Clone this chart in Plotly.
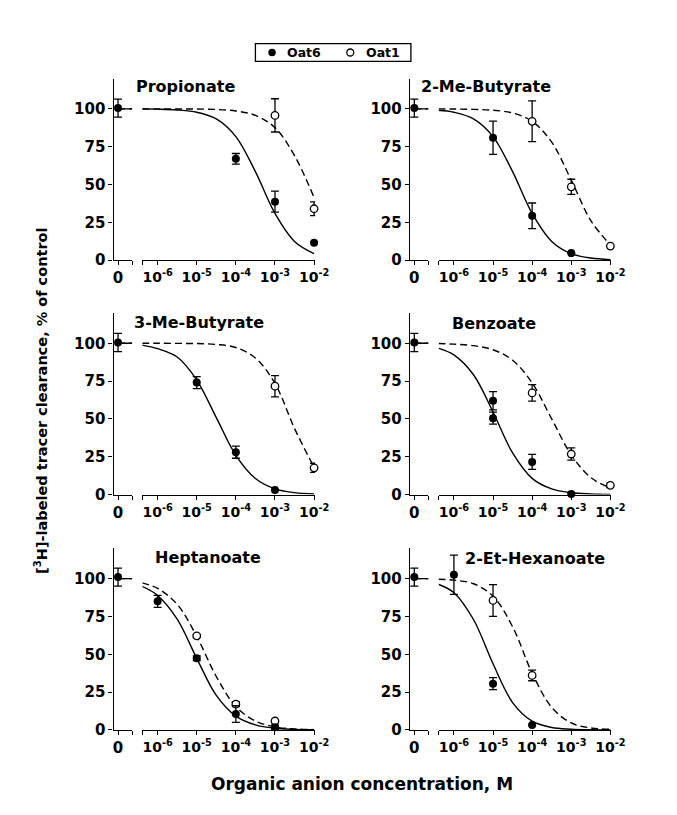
import plotly.graph_objects as go

W, H = 677, 815
FONT = "DejaVu Sans"

# ---------------- data ----------------
panel_titles = ["Propionate", "2-Me-Butyrate", "3-Me-Butyrate",
                "Benzoate", "Heptanoate", "2-Et-Hexanoate"]

x_tick_vals = [1e-6, 1e-5, 1e-4, 1e-3, 1e-2]
x_tick_text = ["10<sup>-6</sup>", "10<sup>-5</sup>", "10<sup>-4</sup>",
               "10<sup>-3</sup>", "10<sup>-2</sup>"]
y_tick_vals = [0, 25, 50, 75, 100]
series_names = ["Oat6", "Oat1"]

# control (concentration 0)
control_y = [100.5, 100.5, 100.5, 100.5, 101.0, 101.0]
control_err = [6, 6, 6, 6, 6, 6]

# Oat6 (filled circles)
oat6_x = [[1e-4, 1e-3, 1e-2],
          [1e-5, 1e-4, 1e-3],
          [1e-5, 1e-4, 1e-3],
          [1e-5, 1e-5, 1e-4, 1e-3],
          [1e-6, 1e-5, 1e-4, 1e-3],
          [1e-6, 1e-5, 1e-4]]
oat6_y = [[67.0, 38.7, 11.5],
          [80.9, 29.3, 4.7],
          [74.0, 28.0, 3.0],
          [62.0, 50.5, 21.6, 0.4],
          [85.0, 47.4, 10.5, 1.7],
          [102.6, 30.6, 3.3]]
oat6_err = [[3.5, 7.0, 0],
            [11.0, 8.5, 0],
            [4.0, 4.0, 0],
            [6.0, 4.0, 5.0, 0],
            [4.0, 1.5, 5.5, 1.5],
            [13.0, 4.0, 0]]

# Oat1 (open circles)
oat1_x = [[1e-3, 1e-2],
          [1e-4, 1e-3, 1e-2],
          [1e-3, 1e-2],
          [1e-4, 1e-3, 1e-2],
          [1e-5, 1e-4, 1e-3],
          [1e-5, 1e-4]]
oat1_y = [[95.7, 34.0],
          [91.8, 48.5, 9.3],
          [71.6, 17.7],
          [67.2, 26.8, 6.1],
          [62.2, 17.0, 5.9],
          [85.6, 36.0]]
oat1_err = [[11.0, 4.5],
            [13.5, 5.0, 0],
            [7.0, 3.0],
            [5.5, 4.0, 1.5],
            [1.0, 1.5, 1.0],
            [10.5, 3.5]]

# fitted curves at these log10 concentrations
fit_logx = [-6.4, -6.0, -5.5, -5.0, -4.5, -4.0, -3.5, -3.0, -2.5, -2.0]
oat6_fit = [
    [99.9, 99.8, 99.3, 97.8, 93.4, 81.7, 58.5, 30.9, 12.4, 4.3],
    [99.1, 97.8, 93.4, 81.7, 58.5, 30.9, 12.4, 4.3, 1.4, 0.4],
    [98.8, 96.4, 90.9, 75.7, 50.9, 25.9, 10.6, 3.8, 1.3, 0.4],
    [96.8, 92.3, 79.2, 54.6, 27.5, 10.7, 3.7, 1.2, 0.4, 0.1],
    [94.9, 88.9, 73.2, 47.3, 22.8, 9.1, 3.3, 1.1, 0.4, 0.1],
    [96.3, 90.7, 73.0, 43.7, 18.1, 5.8, 1.6, 0.5, 0.1, 0.0],
]
oat1_fit = [
    [100.0, 100.0, 99.9, 99.9, 99.6, 98.6, 95.7, 87.6, 69.1, 41.4],
    [100.0, 99.9, 99.7, 99.1, 97.3, 91.8, 78.0, 52.9, 26.2, 10.1],
    [100.0, 100.0, 99.9, 99.8, 99.2, 97.2, 90.3, 73.4, 43.7, 18.0],
    [99.8, 99.4, 98.4, 95.7, 88.8, 73.8, 50.0, 26.2, 11.2, 4.3],
    [97.2, 93.5, 83.0, 61.8, 35.3, 15.4, 5.9, 2.0, 0.7, 0.2],
    [99.6, 99.0, 96.6, 88.4, 68.2, 37.6, 14.9, 4.6, 1.3, 0.4],
]
fit_top = [100, 100, 100, 100, 100, 100]

# ---------------- layout geometry (pixels) ----------------
col_left = [107, 410]          # px of y axis line
row_zero = [255, 492, 730]     # px of y = 0
PX_PER_UNIT = 1.53
Y_MAX = 120
ZERO_W = 19                    # px width of the "0" segment
LOG_START = 29.5               # px from y axis to start of log segment
LOG_END = 206
LOG_RANGE = [-6.3875, -1.975]
ZERO_RANGE = [-4.5 / ZERO_W, 14.5 / ZERO_W]

title_pos = [(181, 79), (488, 79), (194, 318), (496, 319), (203, 556), (538, 557)]

# legend box (px)
LEG_BOX = (252, 36, 411, 54)
LEG_MARK_X = [269, 349]
LEG_TEXT_X = [282, 363]

fig = go.Figure()

lw = 1.4
axis_common = dict(showgrid=False, zeroline=False, showline=True, linecolor="black",
                   linewidth=lw, ticks="outside", ticklen=4, tickwidth=lw,
                   tickcolor="black",
                   tickfont=dict(family=FONT, size=14, color="black", weight="bold"))
minor_common = dict(ticks="outside", ticklen=4, tickwidth=lw, tickcolor="black", showgrid=False)

def aname(kind, n):
    return f"{kind}axis" if n == 1 else f"{kind}axis{n}"

def aref(kind, n):
    return kind if n == 1 else f"{kind}{n}"

filled = dict(symbol="circle", size=8, color="black")
hollow = dict(symbol="circle", size=7.5, color="white", line=dict(color="black", width=1.3))

for i in range(6):
    r, c = divmod(i, 2)
    left = col_left[c]
    y0 = row_zero[r]
    yn = i + 1
    xz = 2 * i + 1
    xl = 2 * i + 2
    ydom = [1 - y0 / H, 1 - (y0 - Y_MAX * PX_PER_UNIT) / H]

    fig.layout[aname("y", yn)] = dict(
        axis_common, domain=ydom, range=[0, Y_MAX], anchor=aref("x", xz),
        tickvals=y_tick_vals, tickfont=dict(family=FONT, size=15, color="black", weight="bold"))
    fig.layout[aname("x", xz)] = dict(
        axis_common, domain=[left / W, (left + ZERO_W) / W], range=ZERO_RANGE,
        anchor=aref("y", yn), tickvals=[0], ticktext=["0"],
        minor=dict(minor_common, tickvals=[ZERO_RANGE[1] - 0.01]),
        tickfont=dict(family=FONT, size=15, color="black", weight="bold"))
    fig.layout[aname("x", xl)] = dict(
        axis_common, type="log", domain=[(left + LOG_START) / W, (left + LOG_END) / W],
        range=LOG_RANGE, anchor=aref("y", yn),
        tickvals=x_tick_vals, ticktext=x_tick_text,
        minor=dict(minor_common, tickvals=[10 ** (LOG_RANGE[0] + 0.004)]))

    xs_fit = [10 ** v for v in fit_logx]
    for fit, dash in ((oat1_fit[i], "7px,4px"), (oat6_fit[i], "solid")):
        fig.add_trace(go.Scatter(
            x=xs_fit, y=fit, mode="lines", xaxis=aref("x", xl), yaxis=aref("y", yn),
            line=dict(color="black", width=lw, dash=dash, shape="spline", smoothing=1.0),
            showlegend=False, hoverinfo="skip"))
        fig.add_trace(go.Scatter(
            x=[0, ZERO_RANGE[1]], y=[fit_top[i], fit_top[i]], mode="lines",
            xaxis=aref("x", xz), yaxis=aref("y", yn),
            line=dict(color="black", width=lw, dash=dash),
            showlegend=False, hoverinfo="skip"))

    fig.add_trace(go.Scatter(
        x=oat1_x[i], y=oat1_y[i], mode="markers", xaxis=aref("x", xl), yaxis=aref("y", yn),
        marker=hollow, name=series_names[1],
        error_y=dict(type="data", array=oat1_err[i], color="black", thickness=1.3, width=4),
        cliponaxis=False, showlegend=False))
    fig.add_trace(go.Scatter(
        x=oat6_x[i], y=oat6_y[i], mode="markers", xaxis=aref("x", xl), yaxis=aref("y", yn),
        marker=filled, name=series_names[0],
        error_y=dict(type="data", array=oat6_err[i], color="black", thickness=1.3, width=4),
        cliponaxis=False, showlegend=False))
    fig.add_trace(go.Scatter(
        x=[0], y=[control_y[i]], mode="markers", xaxis=aref("x", xz), yaxis=aref("y", yn),
        marker=filled, name="control",
        error_y=dict(type="data", array=[control_err[i]], color="black", thickness=1.3, width=4),
        cliponaxis=False, showlegend=False))

    tx, ty = title_pos[i]
    fig.add_annotation(x=tx / W, y=1 - ty / H, xref="paper", yref="paper",
                       text=panel_titles[i], showarrow=False, xanchor="center", yanchor="middle",
                       font=dict(family=FONT, size=16, color="black", weight="bold"))

# ---------------- legend (drawn by hand on a hidden pixel-scaled axis pair) ----------------
lx0, ly0, lx1, ly1 = LEG_BOX
fig.layout["xaxis13"] = dict(domain=[lx0 / W, lx1 / W], range=[lx0, lx1], visible=False,
                             anchor="y7", fixedrange=True)
fig.layout["yaxis7"] = dict(domain=[1 - ly1 / H, 1 - ly0 / H], range=[ly1, ly0], visible=False,
                            anchor="x13", fixedrange=True)
fig.add_shape(type="rect", xref="paper", yref="paper",
              x0=lx0 / W, x1=lx1 / W, y0=1 - ly1 / H, y1=1 - ly0 / H,
              line=dict(color="black", width=1.3), fillcolor="white", layer="below")
ly_mid = (ly0 + ly1) / 2
for k, mk in enumerate((dict(filled, size=7.5), dict(hollow, size=7))):
    fig.add_trace(go.Scatter(x=[LEG_MARK_X[k]], y=[ly_mid], mode="markers",
                             xaxis="x13", yaxis="y7", marker=mk, showlegend=False,
                             hoverinfo="skip", cliponaxis=False))
    fig.add_annotation(x=LEG_TEXT_X[k] / W, y=1 - ly_mid / H, xref="paper", yref="paper",
                       text=series_names[k], showarrow=False, xanchor="left", yanchor="middle",
                       font=dict(family=FONT, size=12.5, color="black", weight="bold"))

fig.add_annotation(x=32 / W, y=1 - 397 / H, xref="paper", yref="paper",
                   text="[<sup>3</sup>H]-labeled tracer clearance, % of control",
                   textangle=-90, showarrow=False, xanchor="center", yanchor="middle",
                   font=dict(family=FONT, size=14.5, color="black", weight="bold"))
fig.add_annotation(x=361 / W, y=1 - 785 / H, xref="paper", yref="paper",
                   text="Organic anion concentration, M",
                   showarrow=False, xanchor="center", yanchor="middle",
                   font=dict(family=FONT, size=17, color="black", weight="bold"))

fig.update_layout(
    width=W, height=H, margin=dict(l=0, r=0, t=0, b=0),
    paper_bgcolor="white", plot_bgcolor="white",
    font=dict(family=FONT, size=14, color="black", weight="bold"),
    showlegend=False,
)

fig.write_html("out.html")
